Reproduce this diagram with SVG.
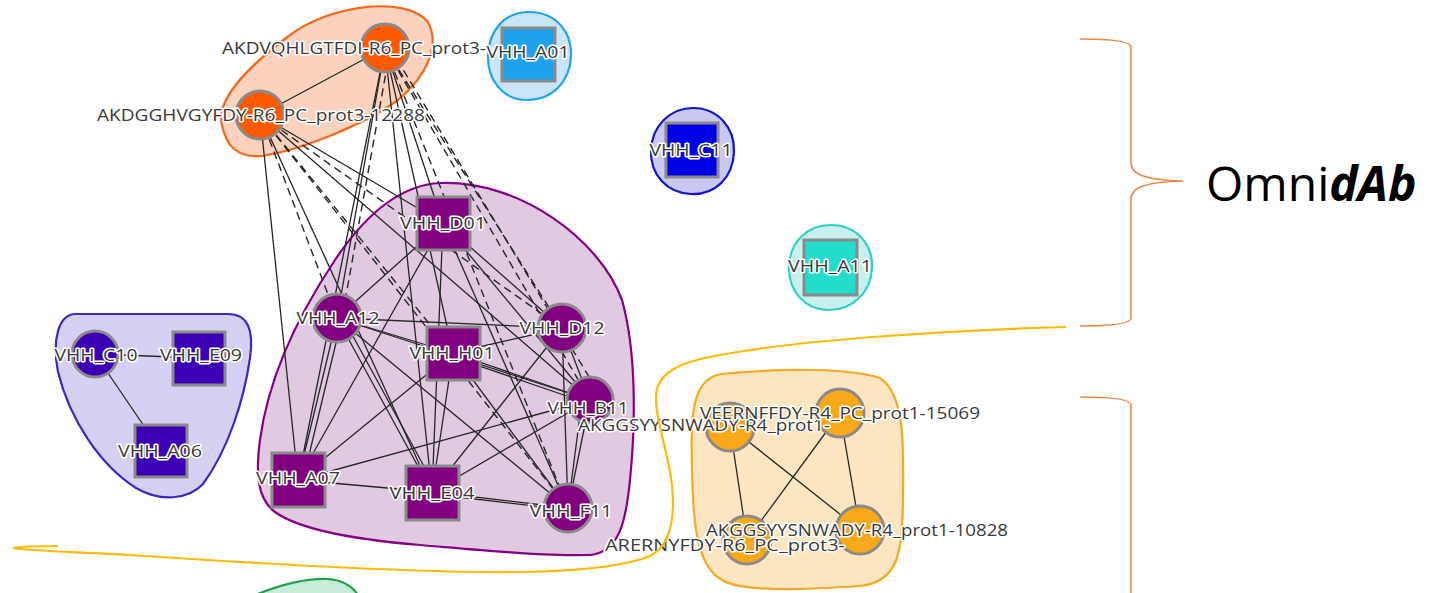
<svg xmlns="http://www.w3.org/2000/svg" width="1430" height="593" viewBox="0 0 1430 593">
<style>
.lbl{font-family:"Open Sans","Liberation Sans",sans-serif;font-size:17px;fill:#3a3a3a;stroke:#fff;stroke-width:3px;paint-order:stroke;stroke-linejoin:round;text-anchor:middle}
.lbls{font-family:"Open Sans","Liberation Sans",sans-serif;font-size:17px;fill:#3a3a3a;stroke:#fff;stroke-width:3px;paint-order:stroke;stroke-linejoin:round}
.e{stroke:#262626;stroke-width:1.3;fill:none}
.d{stroke:#262626;stroke-width:1.4;fill:none;stroke-dasharray:8 5}
.nd{stroke:#8a8a8a;stroke-width:3}
.purple{fill:#800080}
.indigo{fill:#3c00b4}
.orng{fill:#ff5a00}
.gold{fill:#f8a818}
.brace{fill:none;stroke:#e88a4c;stroke-width:1.6}
</style>

<g id="hulls">
<path id="hull-orange-top" d="M222,125 C215,100 250,65 290,35 C330,5 405,-5 428,22 C440,45 428,75 398,100 C362,126 300,150 262,156 C236,158 226,145 222,125 Z" fill="#fbd2bd" stroke="#f26a1e" stroke-width="2.2"/>
<path id="hull-a01" d="M529,12 C556,12 572,32 571,56 C570,82 552,100 527,100 C503,100 487,80 488,55 C489,30 505,12 529,12 Z" fill="#c8e6f8" stroke="#22a4ea" stroke-width="2.2"/>
<path id="hull-c11" d="M693,108 C718,108 735,128 734,152 C733,178 715,195 691,194 C667,193 650,175 651,150 C652,126 670,108 693,108 Z" fill="#c8c8f2" stroke="#1414d0" stroke-width="2.2"/>
<path id="hull-a11" d="M831,225 C856,225 873,244 872,268 C871,292 853,310 829,310 C805,310 788,291 789,266 C790,242 807,225 831,225 Z" fill="#c8f0ee" stroke="#30d2c6" stroke-width="2.2"/>
<path id="hull-indigo" d="M76,314 L228,314 C248,314 254,330 250,358 C244,400 228,450 203,484 C188,500 160,502 136,488 C100,465 70,420 58,372 C52,340 58,314 76,314 Z" fill="#d6d0f2" stroke="#4424c4" stroke-width="2.2"/>
<path id="hull-purple" d="M440,183 C520,180 600,240 622,300 C636,350 636,420 630,480 C626,520 620,552 590,555 C540,556 480,550 420,545 C360,540 300,530 275,512 C256,498 256,470 260,440 C268,380 295,320 335,260 C365,215 400,185 440,183 Z" fill="#e2c9e2" stroke="#840184" stroke-width="2.2"/>
<path id="hull-gold" d="M722,374 C780,368 850,368 880,378 C904,394 904,440 903,500 C902,550 900,582 860,586 C800,590 742,592 722,580 C696,566 693,520 692,470 C691,420 690,378 722,374 Z" fill="#fce6c2" stroke="#f2aa22" stroke-width="2.2"/>
<path id="hull-green" d="M255,595 C280,585 305,578 328,579 C342,580 352,586 358,595 Z" fill="#c9ecd8" stroke="#1fa04f" stroke-width="2.2"/>
</g>

<g id="connectors">
<line class="e" x1="260" y1="115" x2="385" y2="48"/>
<line class="e" x1="260" y1="115" x2="298" y2="480"/>
<line class="d" x1="260" y1="115" x2="337" y2="318"/>
<line class="e" x1="260" y1="115" x2="432" y2="492"/>
<line class="d" x1="260" y1="115" x2="453" y2="353"/>
<line class="e" x1="260" y1="115" x2="443" y2="223"/>
<line class="d" x1="260" y1="115" x2="562" y2="328"/>
<line class="e" x1="260" y1="115" x2="590" y2="400"/>
<line class="d" x1="260" y1="115" x2="568" y2="508"/>
<line class="e" x1="385" y1="48" x2="337" y2="318"/>
<line class="d" x1="390" y1="50" x2="342" y2="318"/>
<line class="e" x1="385" y1="48" x2="298" y2="480"/>
<line class="e" x1="385" y1="48" x2="443" y2="223"/>
<line class="e" x1="385" y1="48" x2="453" y2="353"/>
<line class="e" x1="385" y1="48" x2="432" y2="492"/>
<line class="d" x1="385" y1="48" x2="562" y2="328"/>
<line class="d" x1="385" y1="48" x2="590" y2="400"/>
<line class="d" x1="385" y1="48" x2="568" y2="508"/>
<line class="d" x1="390" y1="48" x2="600" y2="395"/>
<line class="e" x1="337" y1="318" x2="443" y2="223"/>
<line class="e" x1="337" y1="318" x2="562" y2="328"/>
<line class="e" x1="337" y1="318" x2="453" y2="353"/>
<line class="e" x1="337" y1="318" x2="590" y2="400"/>
<line class="e" x1="337" y1="318" x2="568" y2="508"/>
<line class="e" x1="337" y1="318" x2="298" y2="480"/>
<line class="e" x1="342" y1="318" x2="303" y2="480"/>
<line class="e" x1="337" y1="318" x2="432" y2="492"/>
<line class="e" x1="343" y1="318" x2="438" y2="492"/>
<line class="e" x1="443" y1="223" x2="562" y2="328"/>
<line class="e" x1="443" y1="223" x2="590" y2="400"/>
<line class="e" x1="443" y1="223" x2="568" y2="508"/>
<line class="e" x1="443" y1="223" x2="432" y2="492"/>
<line class="e" x1="443" y1="223" x2="298" y2="480"/>
<line class="e" x1="562" y1="328" x2="453" y2="353"/>
<line class="e" x1="562" y1="328" x2="590" y2="400"/>
<line class="e" x1="562" y1="328" x2="568" y2="508"/>
<line class="e" x1="562" y1="328" x2="432" y2="492"/>
<line class="e" x1="453" y1="353" x2="590" y2="400"/>
<line class="e" x1="453" y1="357" x2="590" y2="404"/>
<line class="e" x1="453" y1="353" x2="568" y2="508"/>
<line class="e" x1="453" y1="353" x2="432" y2="492"/>
<line class="e" x1="453" y1="353" x2="298" y2="480"/>
<line class="e" x1="590" y1="400" x2="568" y2="508"/>
<line class="e" x1="582" y1="400" x2="568" y2="508"/>
<line class="e" x1="590" y1="400" x2="298" y2="480"/>
<line class="e" x1="590" y1="400" x2="432" y2="492"/>
<line class="e" x1="298" y1="480" x2="432" y2="492"/>
<line class="e" x1="432" y1="492" x2="568" y2="508"/>
<line class="e" x1="432" y1="494" x2="568" y2="510"/>
<line class="e" x1="95" y1="354" x2="199" y2="358"/>
<line class="e" x1="95" y1="354" x2="161" y2="451"/>
<line class="e" x1="730" y1="427" x2="747" y2="540"/>
<line class="e" x1="730" y1="427" x2="860" y2="530"/>
<line class="e" x1="840" y1="413" x2="747" y2="540"/>
<line class="e" x1="840" y1="413" x2="860" y2="530"/>
</g>

<g id="node-akdgg"><circle class="nd orng" cx="260" cy="115" r="24"/></g>
<g id="node-akdvq"><circle class="nd orng" cx="385" cy="48" r="24"/></g>
<g id="node-a01"><rect class="nd" fill="#1ea2ee" x="502" y="28" width="53" height="53"/></g>
<g id="node-c11"><rect class="nd" fill="#0000e6" x="666" y="123" width="52" height="54"/></g>
<g id="node-a11"><rect class="nd" fill="#22dccc" x="804" y="240" width="53" height="55"/></g>
<g id="node-c10"><circle class="nd indigo" cx="95" cy="354" r="23"/></g>
<g id="node-e09"><rect class="nd indigo" x="173" y="332" width="52" height="53"/></g>
<g id="node-a06"><rect class="nd indigo" x="135" y="425" width="52" height="52"/></g>
<g id="node-d01"><rect class="nd purple" x="417" y="197" width="53" height="53"/></g>
<g id="node-a12"><circle class="nd purple" cx="337" cy="318" r="24"/></g>
<g id="node-d12"><circle class="nd purple" cx="562" cy="328" r="24"/></g>
<g id="node-h01"><rect class="nd purple" x="427" y="327" width="53" height="53"/></g>
<g id="node-b11"><circle class="nd purple" cx="590" cy="400" r="23"/></g>
<g id="node-f11"><circle class="nd purple" cx="568" cy="508" r="24"/></g>
<g id="node-a07"><rect class="nd purple" x="272" y="453" width="53" height="54"/></g>
<g id="node-e04"><rect class="nd purple" x="406" y="466" width="53" height="54"/></g>
<g id="node-aker"><circle class="nd gold" cx="747" cy="540" r="24"/></g>
<g id="node-akgg2"><circle class="nd gold" cx="730" cy="427" r="24"/></g>
<g id="node-veer"><circle class="nd gold" cx="840" cy="413" r="24"/></g>
<g id="node-akgg1"><circle class="nd gold" cx="860" cy="530" r="24"/></g>

<g id="labels">
<text class="lbls" x="97" y="121" textLength="328" lengthAdjust="spacingAndGlyphs">AKDGGHVGYFDY-R6_PC_prot3-12288</text>
<text class="lbls" x="222" y="54" textLength="264" lengthAdjust="spacingAndGlyphs">AKDVQHLGTFDI-R6_PC_prot3-</text>
<text class="lbl" x="528" y="58" textLength="83" lengthAdjust="spacingAndGlyphs">VHH_A01</text>
<text class="lbl" x="691" y="156" textLength="83" lengthAdjust="spacingAndGlyphs">VHH_C11</text>
<text class="lbl" x="830" y="272" textLength="84" lengthAdjust="spacingAndGlyphs">VHH_A11</text>
<text class="lbl" x="96" y="361" textLength="83" lengthAdjust="spacingAndGlyphs">VHH_C10</text>
<text class="lbl" x="201" y="361" textLength="82" lengthAdjust="spacingAndGlyphs">VHH_E09</text>
<text class="lbl" x="160" y="457" textLength="84" lengthAdjust="spacingAndGlyphs">VHH_A06</text>
<text class="lbl" x="443" y="229" textLength="86" lengthAdjust="spacingAndGlyphs">VHH_D01</text>
<text class="lbl" x="338" y="324" textLength="83" lengthAdjust="spacingAndGlyphs">VHH_A12</text>
<text class="lbl" x="562" y="334" textLength="85" lengthAdjust="spacingAndGlyphs">VHH_D12</text>
<text class="lbl" x="452" y="359" textLength="85" lengthAdjust="spacingAndGlyphs">VHH_H01</text>
<text class="lbl" x="588" y="414" textLength="81" lengthAdjust="spacingAndGlyphs">VHH_B11</text>
<text class="lbl" x="298" y="484" textLength="84" lengthAdjust="spacingAndGlyphs">VHH_A07</text>
<text class="lbl" x="432" y="499" textLength="85" lengthAdjust="spacingAndGlyphs">VHH_E04</text>
<text class="lbl" x="571" y="517" textLength="83" lengthAdjust="spacingAndGlyphs">VHH_F11</text>
<text class="lbls" x="578" y="431" textLength="252" lengthAdjust="spacingAndGlyphs">AKGGSYYSNWADY-R4_prot1-</text>
<text class="lbls" x="605" y="551" textLength="240" lengthAdjust="spacingAndGlyphs">ARERNYFDY-R6_PC_prot3-</text>
<text class="lbls" x="700" y="419" textLength="280" lengthAdjust="spacingAndGlyphs">VEERNFFDY-R4_PC_prot1-15069</text>
<text class="lbls" x="706" y="536" textLength="302" lengthAdjust="spacingAndGlyphs">AKGGSYYSNWADY-R4_prot1-10828</text>
</g>

<g id="annotations">
<path id="yellow-outline" d="M58,546 C40,546 20,547 13,548 C30,551 80,552 130,555 C250,563 380,571 480,572 C560,573 620,568 650,556 C672,545 675,515 672,485 C668,450 655,420 656,395 C658,372 680,362 720,355 C800,340 950,330 1066,327" fill="none" stroke="#fbbb0a" stroke-width="2.2"/>
<path id="brace-top" class="brace" d="M1080,39 C1115,39 1131,42 1131,47 L1131,163 C1131,176 1150,180 1183,181 C1150,182 1131,186 1131,199 L1131,318 C1131,323 1115,326 1080,326"/>
<path id="brace-bottom" class="brace" d="M1080,397 C1115,397 1131,400 1131,405 L1131,595"/>
<text x="1206" y="201" font-family="'Open Sans','Noto Sans',sans-serif" font-size="48" fill="#000">Omni<tspan font-weight="bold" font-style="italic">dAb</tspan></text>
</g>
</svg>
